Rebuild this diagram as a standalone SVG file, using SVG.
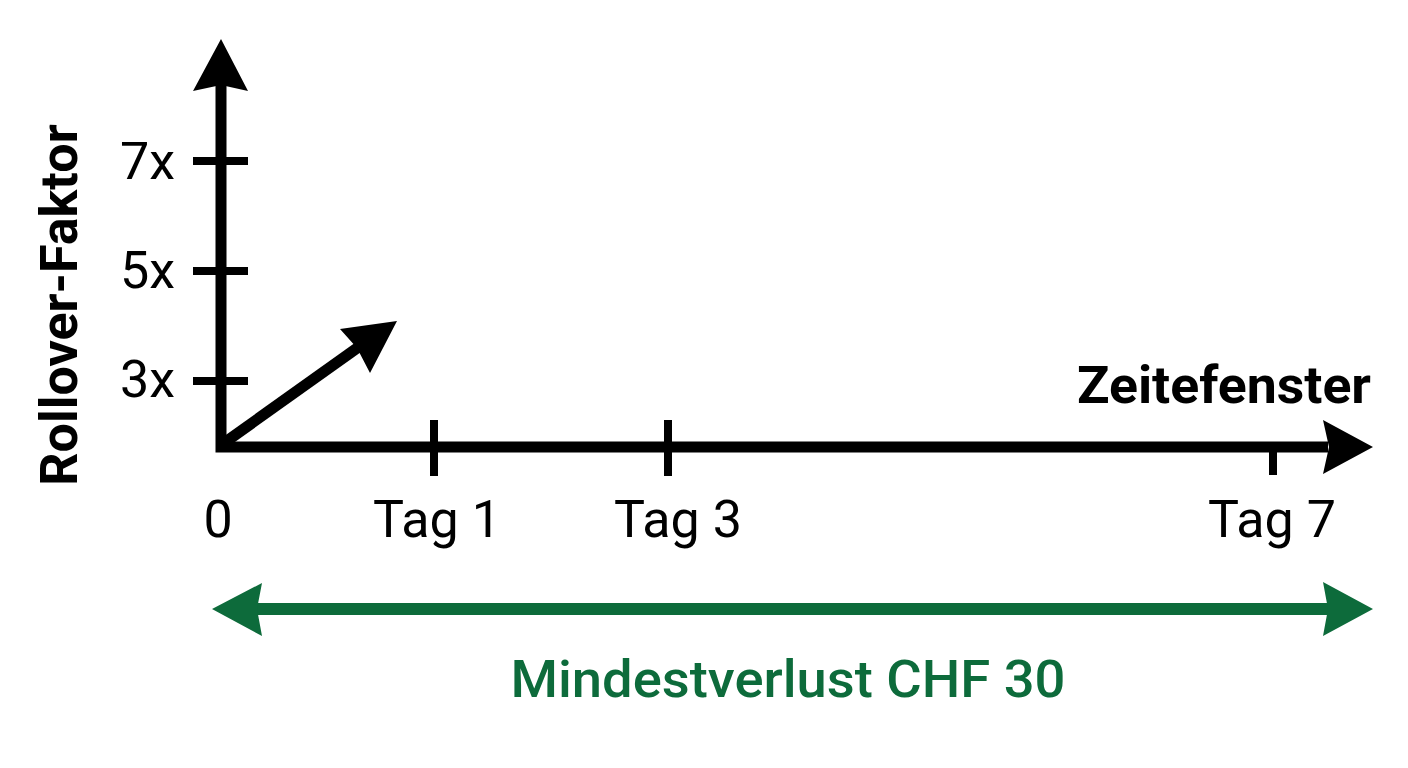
<svg xmlns="http://www.w3.org/2000/svg" width="1408" height="768" viewBox="0 0 1408 768">
<style>
.ax{fill:none;stroke:#000;stroke-width:11;stroke-linejoin:miter;stroke-linecap:butt}
.tk{stroke:#000;stroke-width:8;stroke-linecap:butt}
.lbl{font-family:Roboto,"Liberation Sans",sans-serif;font-size:52px;fill:#000}
.bold{font-weight:700}
.grn{fill:#0d6b3b}
</style>
<rect width="1408" height="768" fill="#fff"/>
<g id="connectors">
  <path class="ax" d="M221,84 L221,447 L1328,447"/>
  <polygon points="221,39 248,91 221,85 193,91" fill="#000"/>
  <polygon points="1373,447 1323,420 1329,447 1323,474" fill="#000"/>
  <line x1="224" y1="443" x2="360" y2="346" stroke="#000" stroke-width="11"/>
  <polygon points="397,321 370,373 357,348 340,329" fill="#000"/>
  <line x1="255" y1="609" x2="1328" y2="609" stroke="#0d6b3b" stroke-width="12"/>
  <polygon points="212,609 262,583 257,609 262,636" fill="#0d6b3b"/>
  <polygon points="1373,609 1323,582 1328,609 1323,636" fill="#0d6b3b"/>
</g>
<g id="y-ticks">
  <line class="tk" x1="193" y1="161" x2="248" y2="161"/>
  <line class="tk" x1="193" y1="271" x2="248" y2="271"/>
  <line class="tk" x1="193" y1="381" x2="248" y2="381"/>
</g>
<g id="x-ticks">
  <line class="tk" x1="434" y1="420" x2="434" y2="476"/>
  <line class="tk" x1="668" y1="420" x2="668" y2="476"/>
  <line class="tk" x1="1273" y1="447" x2="1273" y2="475"/>
</g>
<g id="y-label">
  <text class="lbl bold" transform="translate(77,305) rotate(-90)" text-anchor="middle" font-size="53">Rollover-Faktor</text>
</g>
<g id="y-values">
  <text class="lbl" x="175" y="179" text-anchor="end" font-size="53">7x</text>
  <text class="lbl" x="175" y="288" text-anchor="end" font-size="53">5x</text>
  <text class="lbl" x="175" y="397" text-anchor="end" font-size="53">3x</text>
</g>
<g id="x-label">
  <text class="lbl bold" x="1371" y="403" text-anchor="end" font-size="54" textLength="294" lengthAdjust="spacingAndGlyphs">Zeitefenster</text>
</g>
<g id="x-values">
  <text class="lbl" x="218" y="537" text-anchor="middle">0</text>
  <text class="lbl" x="437" y="537" text-anchor="middle">Tag 1</text>
  <text class="lbl" x="678" y="537" text-anchor="middle">Tag 3</text>
  <text class="lbl" x="1272" y="537" text-anchor="middle">Tag 7</text>
</g>
<g id="loss-label">
  <text class="lbl grn" x="788" y="697" text-anchor="middle" font-size="56" font-weight="500" textLength="555" lengthAdjust="spacingAndGlyphs">Mindestverlust CHF 30</text>
</g>
</svg>
